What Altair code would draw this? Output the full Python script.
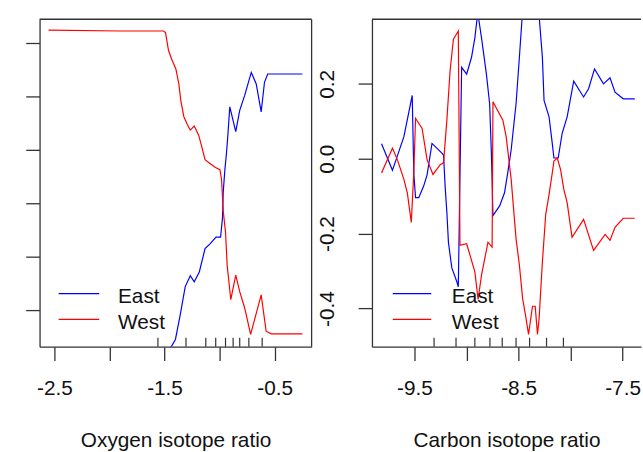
import altair as alt
import pandas as pd

FONT = "Liberation Sans"
INK = "#333333"

series_names = ["East", "West"]
series_colors = ["#0000FF", "#FF0000"]

# ---------------- Oxygen isotope ratio panel ----------------
oxy_east_x = [-2.554, -1.895, -1.509, -1.491, -1.464, -1.446, -1.401, -1.357, -1.312, -1.266,
              -1.230, -1.184, -1.132, -1.087, -1.032, -0.991, -0.973, -0.967, -0.952, -0.937,
              -0.928, -0.907, -0.853, -0.817, -0.772, -0.712, -0.667, -0.622, -0.592, -0.563, -0.248]
oxy_east_y = [-0.649, -0.646, -0.646, -0.640, -0.574, -0.541, -0.509, -0.416, -0.311, -0.270,
              -0.293, -0.256, -0.169, -0.151, -0.126, -0.126, -0.052, 0.041, 0.126, 0.189,
              0.237, 0.362, 0.269, 0.349, 0.405, 0.491, 0.448, 0.343, 0.454, 0.485, 0.485]
oxy_west_x = [-2.554, -1.895, -1.509, -1.491, -1.464, -1.436, -1.397, -1.370, -1.352, -1.325,
              -1.293, -1.266, -1.230, -1.190, -1.163, -1.132, -1.087, -1.041, -0.997, -0.982,
              -0.967, -0.946, -0.931, -0.898, -0.853, -0.817, -0.772, -0.718, -0.622, -0.577,
              -0.532, -0.248]
oxy_west_y = [0.649, 0.646, 0.646, 0.640, 0.574, 0.541, 0.504, 0.448, 0.385, 0.326,
              0.296, 0.275, 0.290, 0.256, 0.215, 0.164, 0.150, 0.136, 0.127, 0.090,
              -0.027, -0.107, -0.231, -0.360, -0.268, -0.330, -0.391, -0.490, -0.342, -0.478,
              -0.488, -0.488]
oxy_rug = [-1.560, -1.305, -1.125, -1.035, -0.946, -0.877, -0.817, -0.734, -0.613]
oxy_x_ticks = [-2.5, -2.0, -1.5, -1.0, -0.5]
oxy_y_ticks = [-0.4, -0.2, 0.0, 0.2, 0.4, 0.6]
oxy_x_domain = [-2.635, -0.164]
oxy_y_domain = [-0.536, 0.690]

# ---------------- Carbon isotope ratio panel ----------------
carb_east_x = [-9.817, -9.712, -9.602, -9.538, -9.522, -9.507, -9.490, -9.459, -9.412, -9.379,
               -9.332, -9.237, -9.221, -9.205, -9.189, -9.174, -9.142, -9.094, -9.079, -9.063,
               -9.047, -8.999, -8.952, -8.920, -8.892, -8.856, -8.809, -8.778, -8.761, -8.746,
               -8.682, -8.635, -8.604, -8.571, -8.524, -8.492, -8.467, -8.429, -8.404, -8.366,
               -8.340, -8.318, -8.302, -8.271, -8.255, -8.207, -8.176, -8.160, -8.119, -8.081,
               -8.033, -7.970, -7.875, -7.827, -7.770, -7.684, -7.621, -7.573, -7.494, -7.383]
carb_east_y = [0.040, -0.031, 0.059, 0.147, 0.169, -0.038, -0.104, -0.104, -0.073, -0.043,
               0.041, 0.015, 0.010, -0.077, -0.143, -0.223, -0.291, -0.328, -0.342, -0.046,
               0.244, 0.226, 0.271, 0.323, 0.390, 0.323, 0.226, 0.147, 0.015, -0.152,
               -0.126, -0.091, -0.038, 0.024, 0.147, 0.271, 0.372, 0.424, 0.467, 0.393,
               0.393, 0.467, 0.380, 0.271, 0.156, 0.112, 0.041, 0.002, 0.002, 0.068,
               0.112, 0.207, 0.165, 0.187, 0.240, 0.200, 0.216, 0.178, 0.160, 0.160]
carb_west_x = [-9.817, -9.712, -9.664, -9.602, -9.569, -9.531, -9.507, -9.490, -9.427, -9.379,
               -9.322, -9.253, -9.221, -9.189, -9.158, -9.126, -9.079, -9.063, -8.999, -8.920,
               -8.889, -8.856, -8.794, -8.754, -8.746, -8.651, -8.619, -8.571, -8.524, -8.492,
               -8.461, -8.429, -8.404, -8.366, -8.340, -8.318, -8.302, -8.271, -8.239, -8.207,
               -8.176, -8.160, -8.128, -8.096, -8.065, -8.033, -7.986, -7.875, -7.779, -7.668,
               -7.621, -7.573, -7.494, -7.383]
carb_west_y = [-0.038, 0.028, -0.003, -0.055, -0.091, -0.170, -0.038, 0.108, 0.081, -0.003,
               -0.042, -0.016, -0.011, 0.103, 0.235, 0.319, 0.341, -0.231, -0.227, -0.302,
               -0.376, -0.311, -0.223, -0.236, 0.152, 0.103, 0.059, -0.055, -0.214, -0.284,
               -0.373, -0.425, -0.469, -0.394, -0.394, -0.469, -0.425, -0.276, -0.149, -0.096,
               -0.038, -0.006, 0.002, -0.029, -0.082, -0.117, -0.210, -0.162, -0.245, -0.202,
               -0.218, -0.183, -0.159, -0.159]
carb_rug = [-9.312, -9.101, -8.920, -8.775, -8.657, -8.524, -8.394, -8.231, -8.069]
carb_x_ticks = [-9.5, -9.0, -8.5, -8.0, -7.5]
carb_y_ticks = [-0.4, -0.2, 0.0, 0.2]
carb_x_domain = [-9.909, -7.323]
carb_y_domain = [-0.502, 0.3725]

H = 331
LEG_LINE_Y = [277.3, 303.3]
LEG_TEXT_Y = [287.0, 313.3]

X_LABEL_EXPR = ("abs(round(datum.value*2)) % 2 == 1 ? "
                "(datum.value < 0 ? '-' : '') + format(abs(datum.value), '.1f') : ''")
Y_LABEL_EXPR = "(datum.value < -0.001 ? '-' : '') + format(abs(datum.value), '.1f')"

COLOR_SCALE = alt.Scale(domain=series_names, range=series_colors)


def panel(ex, ey, wx, wy, rug, xdom, ydom, xticks, yticks, show_ylabels, xtitle,
          width, lx0, lx1, ltx, right_border):
    df = pd.DataFrame({
        "x": ex + wx,
        "y": ey + wy,
        "series": [series_names[0]] * len(ex) + [series_names[1]] * len(wx),
        "order": list(range(len(ex))) + list(range(len(wx))),
    })
    xscale = alt.Scale(domain=xdom, nice=False, zero=False)
    yscale = alt.Scale(domain=ydom, nice=False, zero=False)
    xaxis = alt.Axis(values=xticks, labelExpr=X_LABEL_EXPR, title=xtitle,
                     labelOverlap=False, labelFlush=False, labelPadding=34,
                     labelBaseline="alphabetic", titleY=101, titleBaseline="alphabetic")
    if show_ylabels:
        yaxis = alt.Axis(values=yticks, labelExpr=Y_LABEL_EXPR, title=None,
                         labelAngle=270, labelAlign="center", labelBaseline="alphabetic",
                         labelPadding=24.5, labelOverlap=False, labelFlush=False)
    else:
        yaxis = alt.Axis(values=yticks, labels=False, title=None)

    lines = alt.Chart(df).mark_line(clip=True, strokeWidth=1.2).encode(
        x=alt.X("x:Q", scale=xscale, axis=xaxis),
        y=alt.Y("y:Q", scale=yscale, axis=yaxis),
        color=alt.Color("series:N", scale=COLOR_SCALE, legend=None),
        detail="series:N",
        order="order:Q",
    )
    rug_df = pd.DataFrame({"x": rug})
    rug_layer = alt.Chart(rug_df).mark_rule(color=INK, strokeWidth=1.2).encode(
        x=alt.X("x:Q", scale=xscale, axis=xaxis),
        y=alt.value(H),
        y2=alt.value(H - 9),
    )
    layers = [lines, rug_layer]
    leg_df = pd.DataFrame({"series": series_names})
    for i, name in enumerate(series_names):
        layers.append(
            alt.Chart(leg_df).transform_filter(alt.datum.series == name)
            .mark_rule(strokeWidth=1.2)
            .encode(x=alt.value(lx0), x2=alt.value(lx1), y=alt.value(LEG_LINE_Y[i]),
                    color=alt.Color("series:N", scale=COLOR_SCALE, legend=None))
        )
        layers.append(
            alt.Chart(leg_df).transform_filter(alt.datum.series == name)
            .mark_text(align="left", baseline="alphabetic", font=FONT, fontSize=21,
                       color="#111111")
            .encode(x=alt.value(ltx), y=alt.value(LEG_TEXT_Y[i]), text="series:N")
        )
    one = pd.DataFrame({"edge": [0]})
    layers.append(
        alt.Chart(one).mark_rule(color=INK, strokeWidth=1.3)
        .encode(x=alt.value(0), x2=alt.value(width), y=alt.value(0))
    )
    if right_border:
        layers.append(
            alt.Chart(one).mark_rule(color=INK, strokeWidth=1.3)
            .encode(x=alt.value(width), y=alt.value(0), y2=alt.value(H))
        )
    return alt.layer(*layers).properties(width=width, height=H)


left = panel(oxy_east_x, oxy_east_y, oxy_west_x, oxy_west_y, oxy_rug,
             oxy_x_domain, oxy_y_domain, oxy_x_ticks, oxy_y_ticks, False,
             "Oxygen isotope ratio", 275, 19.3, 60.3, 79.3, True)
right = panel(carb_east_x, carb_east_y, carb_west_x, carb_west_y, carb_rug,
              carb_x_domain, carb_y_domain, carb_x_ticks, carb_y_ticks, True,
              "Carbon isotope ratio", 272, 21, 60, 80.7, False)

chart = (
    alt.hconcat(left, right, spacing=3)
    .properties(padding={"left": 24, "top": 15, "right": 0, "bottom": 0},
                background="white")
    .configure_view(stroke="transparent")
    .configure_axis(
        grid=False,
        domainColor=INK, domainWidth=1.3,
        tickColor=INK, tickWidth=1.3, tickSize=14,
        labelFont=FONT, labelFontSize=21, labelColor="#111111",
        titleFont=FONT, titleFontSize=21, titleColor="#111111",
        titleFontWeight="normal",
        minExtent=0,
    )
)

chart.save("out.html", embed_options={"renderer": "svg", "actions": False})
